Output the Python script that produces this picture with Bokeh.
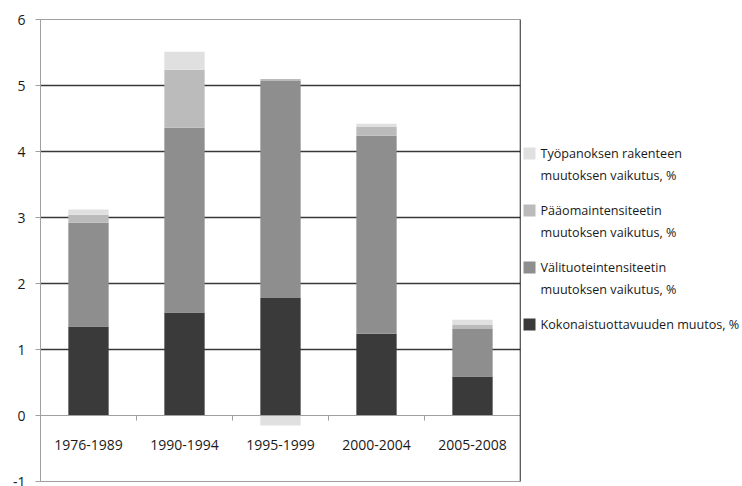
import numpy as np
from bokeh.plotting import figure
from bokeh.layouts import row
from bokeh.models import Range1d, LinearAxis, FixedTicker, Span, Grid
from bokeh.core.properties import value
from bokeh.embed import file_html
from bokeh.resources import INLINE

# ---- data ----
categories = ["1976-1989", "1990-1994", "1995-1999", "2000-2004", "2005-2008"]
kokonais = [1.35, 1.56, 1.78, 1.24, 0.59]        # Kokonaistuottavuuden muutos, %
valituote = [1.57, 2.80, 3.29, 3.00, 0.72]       # Välituoteintensiteetin muutoksen vaikutus, %
paaoma = [0.12, 0.88, 0.03, 0.13, 0.06]          # Pääomaintensiteetin muutoksen vaikutus, %
tyopanos = [0.08, 0.27, -0.15, 0.05, 0.08]       # Työpanoksen rakenteen muutoksen vaikutus, %
y_ticks = [-1, 0, 1, 2, 3, 4, 5, 6]

series = [
    (["Kokonaistuottavuuden muutos, %"], kokonais, "#3a3a3a"),
    (["Välituoteintensiteetin", "muutoksen vaikutus, %"], valituote, "#8e8e8e"),
    (["Pääomaintensiteetin", "muutoksen vaikutus, %"], paaoma, "#bbbbbb"),
    (["Työpanoksen rakenteen", "muutoksen vaikutus, %"], tyopanos, "#e0e0e0"),
]

FONT = "Open Sans"
TXT = "#1a1a1a"
GRAY = "#a0a0a0"
TOP, BOTTOM = 19, 5
H = 486

n = len(categories)
centers = np.arange(n) + 0.5

p = figure(width=522, height=H,
           x_range=Range1d(0, n), y_range=Range1d(y_ticks[0], y_ticks[-1]),
           output_backend="svg", toolbar_location=None,
           x_axis_location=None, y_axis_location=None,
           min_border_left=40, min_border_right=2,
           min_border_top=TOP, min_border_bottom=BOTTOM,
           outline_line_color=GRAY, background_fill_color="white",
           border_fill_color="white")
# drop default grids
p.center = [r for r in p.center if not isinstance(r, Grid)]

# y axis
yaxis = LinearAxis(ticker=FixedTicker(ticks=y_ticks, minor_ticks=[]),
                   axis_line_color=GRAY, major_tick_line_color=GRAY,
                   major_tick_out=5, major_tick_in=0,
                   minor_tick_line_color=None, major_label_standoff=10,
                   major_label_text_font=FONT, major_label_text_font_size="14px",
                   major_label_text_color=TXT,
                   major_label_overrides={t: str(t) for t in y_ticks})
p.add_layout(yaxis, "left")

# horizontal gridlines
grid_ticks = [t for t in y_ticks if 0 < t < y_ticks[-1]]
p.add_layout(Grid(dimension=1, ticker=FixedTicker(ticks=grid_ticks),
                  grid_line_color="#383838", grid_line_width=1.4))

# bars (positives and negatives stacked separately)
pos_base = np.zeros(n)
neg_base = np.zeros(n)
for labels, vals, color in series:
    v = np.array(vals, dtype=float)
    bottom = np.where(v >= 0, pos_base, neg_base + v)
    top = np.where(v >= 0, pos_base + v, neg_base)
    pos_base = pos_base + np.clip(v, 0, None)
    neg_base = neg_base + np.clip(v, None, 0)
    p.vbar(x=centers, width=0.42, bottom=bottom, top=top,
           fill_color=color, line_color=None)

# category axis at zero
p.add_layout(Span(location=0, dimension="width", line_color=GRAY, line_width=1))
bounds = np.arange(1, n)
p.segment(x0=bounds, x1=bounds, y0=np.zeros(len(bounds)),
          y1=np.full(len(bounds), -0.076), line_color=GRAY, line_width=1)
p.text(x=centers, y=np.full(n, -0.44), text=categories,
       text_align="center", text_baseline="middle",
       text_font=value(FONT), text_font_size="14px", text_color=TXT)

# right border
p.add_layout(Span(location=n, dimension="height", line_color="#1a1a1a",
                  line_width=1.5))

# ---- legend panel (page-pixel coordinates) ----
LW = 220
lg = figure(width=LW, height=H, x_range=Range1d(0, LW),
            y_range=Range1d(H - BOTTOM, TOP),
            output_backend="svg", toolbar_location=None,
            x_axis_location=None, y_axis_location=None,
            min_border_left=0, min_border_right=0,
            min_border_top=TOP, min_border_bottom=BOTTOM,
            outline_line_color=None,
            background_fill_color="white", border_fill_color="white")
lg.center = [r for r in lg.center if not isinstance(r, Grid)]

first_center = 153
pitch = 57
line_gap = 22
sq_x, sq_size, txt_x = 7, 12, 18
sq_xs, sq_ys, sq_cols = [], [], []
tx, ty, tt = [], [], []
for i, (labels, vals, color) in enumerate(reversed(series)):
    yc = first_center + i * pitch
    sq_xs.append(sq_x)
    sq_ys.append(yc)
    sq_cols.append(color)
    for j, line in enumerate(labels):
        tx.append(txt_x)
        ty.append(yc + j * line_gap)
        tt.append(line)
lg.rect(x=sq_xs, y=sq_ys, width=sq_size, height=sq_size,
        fill_color=sq_cols, line_color=None)
lg.text(x=tx, y=ty, text=tt, text_align="left", text_baseline="middle",
        text_font=value(FONT), text_font_size="12.6px", text_color=TXT)

layout = row(p, lg, spacing=0)
open("out.html", "w").write(file_html(layout, INLINE))
